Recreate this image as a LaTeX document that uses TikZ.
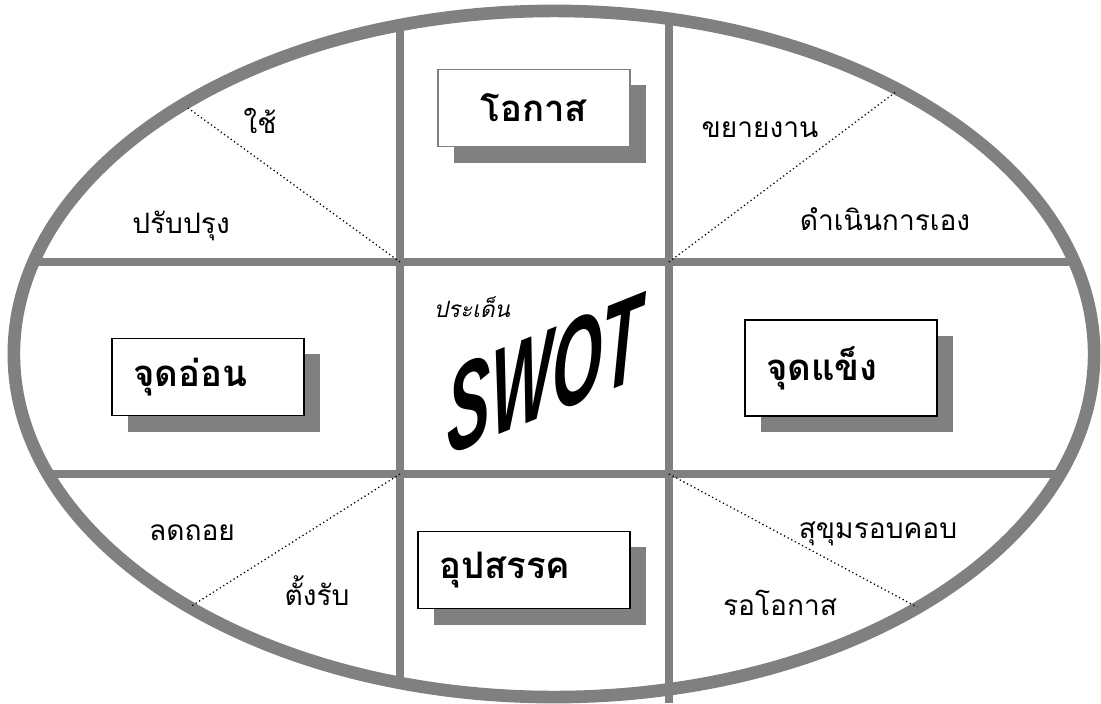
\documentclass[tikz,border=0pt]{standalone}
\usepackage{fontspec}
\newfontfamily\thai[Script=Thai]{Loma}
\newfontfamily\swotfont{Liberation Sans}
\usetikzlibrary{shadows}

\begin{document}
\begin{tikzpicture}[
    x=0.025cm, y=-0.025cm,
    frame/.style={draw=gray, line width=5pt},
    rim/.style={draw=gray, line width=9pt},
    split/.style={draw=black, dotted, line width=0.9pt},
    tagbox/.style={draw, line width=0.8pt, fill=white, minimum height=1.93cm,
        text width=3.74cm, align=left, inner xsep=0.53cm,
        font=\thai\bfseries\fontsize{26}{30}\selectfont,
        drop shadow={shadow xshift=0.4cm, shadow yshift=-0.4cm, fill=gray, opacity=1}},
    word/.style={anchor=base, inner sep=0pt, font=\thai\fontsize{20}{24}\selectfont}
]
    \useasboundingbox (0,0) rectangle (1101,704);

    % เส้นแบ่งช่อง
    \draw[frame] (34,262) -- (1074,262);
    \draw[frame] (48,474) -- (1060,474);
    \draw[frame] (400,25) -- (400,683);
    \draw[frame] (669,13) -- (669,703);

    % วงรีรอบนอก
    \draw[rim] (554,354) ellipse [x radius=13.5cm, y radius=8.575cm];

    % มุมของช่องกลาง และจุดบนขอบวงรี
    \coordinate (nw) at (400,262);
    \coordinate (ne) at (669,262);
    \coordinate (sw) at (400,474);
    \coordinate (se) at (669,474);
    \coordinate (rnw) at (188,108);
    \coordinate (rne) at (897,91);
    \coordinate (rsw) at (190,607);
    \coordinate (rse) at (917,607);
    \draw[split] (nw) -- (rnw);
    \draw[split] (ne) -- (rne);
    \draw[split] (sw) -- (rsw);
    \draw[split] (se) -- (rse);

    % กล่องหัวข้อ
    \node[tagbox, draw=gray, align=center] (opp) at (534,108) {โอกาส};
    \node[tagbox] (weak) at (208,377) {จุดอ่อน};
    \node[tagbox, minimum height=2.4cm] (strong) at (841,368) {จุดแข็ง};
    \node[tagbox, text width=4.24cm] (threat) at (524,570) {อุปสรรค};

    % ข้อความในช่อง
    \node[word] (use) at (260,133) {ใช้};
    \node[word] (improve) at (181,233) {ปรับปรุง};
    \node[word] (expand) at (760,137) {ขยายงาน};
    \node[word] (selfrun) at (885,230) {ดำเนินการเอง};
    \node[word] (retreat) at (192,540) {ลดถอย};
    \node[word] (defend) at (317,605) {ตั้งรับ};
    \node[word] (prudent) at (878,538) {สุขุมรอบคอบ};
    \node[word] (wait) at (780,615) {รอโอกาส};

    % ประเด็น SWOT
    \node[word, font=\thai\itshape\fontsize{16}{18}\selectfont] (issue) at (472,317) {ประเด็น};
    \node[inner sep=0pt, yslant=0.4, yscale=1.9, font=\swotfont\bfseries\itshape\fontsize{46}{46}\selectfont] (swot) at (545,374) {SWOT};
\end{tikzpicture}
\end{document}
